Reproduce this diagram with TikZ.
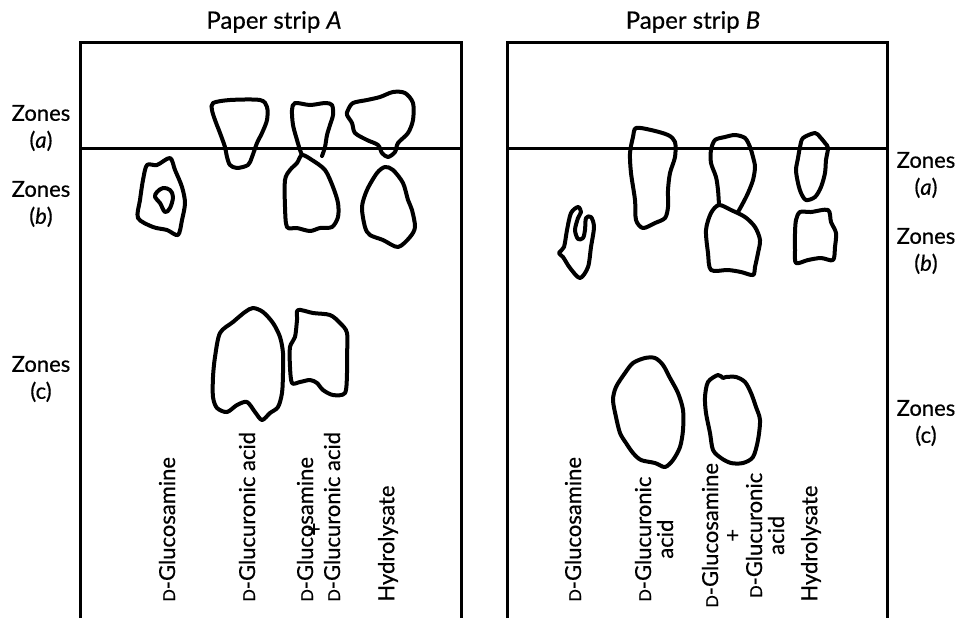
\documentclass[tikz,border=0pt]{standalone}
\usepackage{fontspec}
\setmainfont{Lato}[FakeBold=0.5]
\usetikzlibrary{positioning}
\newcommand{\dsc}{{\fontsize{8.2}{9}\selectfont D}}

\begin{document}
\begin{tikzpicture}[
  x=0.5pt,y=-0.5pt,
  font=\fontsize{11}{11}\selectfont,
  strip/.style={line width=1.5pt,line join=miter},
  spot/.style={line width=2pt,line join=round,line cap=round},
  zone/.style={align=center,inner sep=0pt,font=\fontsize{11}{13.5}\selectfont},
  lane/.style={rotate=90,anchor=west,inner sep=0pt,align=center},
]
\useasboundingbox (0,0) rectangle (958,618);

% strip A frame and start line
\draw[strip] (80,618) -- (80,42) -- (461,42) -- (461,618);
\draw[strip] (80,148) -- (461,148);
\node[inner sep=0pt,font=\fontsize{12}{12}\selectfont] (titleA) at (274,22) {Paper strip \textit{A}};

% strip B frame and start line
\draw[strip] (507,618) -- (507,42) -- (887,42) -- (887,618);
\draw[strip] (507,148) -- (887,148);
\node[inner sep=0pt,font=\fontsize{12}{12}\selectfont] (titleB) at (693,22) {Paper strip \textit{B}};

% zone labels
\node[zone] (zaL) at (41,128) {Zones\\(\textit{a})};
\node[zone] (zbL) at (41,204) {Zones\\(\textit{b})};
\node[zone] (zcL) at (41,379) {Zones\\(c)};
\node[zone] (zaR) at (926,175) {Zones\\(\textit{a})};
\node[zone] (zbR) at (926,251) {Zones\\(\textit{b})};
\node[zone] (zcR) at (926,423) {Zones\\(c)};

% spots, strip A
\draw[spot] plot[smooth cycle,tension=0.5] coordinates {(147,165) (157,165) (170,158) (175,170) (182,187) (185,203) (182,220) (178,235) (167,230) (153,227) (138,218) (140,200) (143,180)};
\draw[spot] plot[smooth cycle,tension=0.6] coordinates {(157,192) (163,188) (170,190) (173,197) (170,208) (165,212) (160,203) (155,197)};
\draw[spot] plot[smooth cycle,tension=0.5] coordinates {(213,103) (230,100) (260,100) (267,107) (267,120) (262,133) (257,143) (252,157) (248,165) (237,168) (230,165) (227,157) (225,147) (220,133) (215,120) (212,110)};
\draw[spot] plot[smooth,tension=0.5] coordinates {(322,156) (325,147) (327,135) (330,125) (333,115) (332,105) (325,103) (310,105) (295,103) (292,110) (293,125) (297,140) (300,150) (302,155)};
\draw[spot] plot[smooth cycle,tension=0.5] coordinates {(302,155) (312,160) (325,170) (333,187) (338,203) (338,217) (332,227) (320,228) (310,231) (297,228) (287,227) (285,207) (285,180) (290,170) (297,163)};
\draw[spot] plot[smooth cycle,tension=0.5] coordinates {(348,110) (353,103) (367,100) (380,97) (393,92) (405,93) (413,103) (413,120) (408,133) (398,143) (395,152) (388,157) (382,153) (378,145) (367,140) (355,133) (352,123) (347,115)};
\draw[spot] plot[smooth cycle,tension=0.5] coordinates {(385,167) (393,170) (403,183) (408,200) (412,210) (415,227) (410,237) (398,247) (383,240) (370,235) (365,227) (362,207) (367,190) (377,173)};
\draw[spot] plot[smooth cycle,tension=0.5] coordinates {(253,308) (263,312) (273,323) (280,337) (283,353) (283,373) (282,393) (278,407) (270,413) (262,420) (255,412) (247,402) (237,405) (227,412) (217,408) (213,397) (213,377) (215,357) (220,333) (233,322) (245,312)};
\draw[spot] plot[smooth cycle,tension=0.5] coordinates {(298,310) (313,313) (330,315) (340,323) (347,333) (347,357) (347,373) (345,393) (333,395) (323,390) (317,383) (310,380) (300,382) (292,383) (290,367) (290,347) (295,337) (297,320)};

% spots, strip B
\draw[spot] plot[smooth cycle,tension=0.5] coordinates {(578,207) (581,212) (578,218) (575,230) (578,239) (583,238) (585,230) (586,218) (591,217) (594,227) (591,247) (588,267) (580,278) (570,268) (563,257) (559,253) (564,247) (567,230) (571,213)};
\draw[spot] plot[smooth cycle,tension=0.5] coordinates {(636,128) (651,130) (668,135) (675,142) (675,157) (670,173) (668,190) (668,207) (665,218) (655,223) (643,228) (636,220) (635,200) (631,173) (630,153) (633,137)};
\draw[spot] plot[smooth,tension=0.5] coordinates {(738,212) (743,203) (748,193) (753,180) (755,167) (753,157) (750,147) (745,138) (735,135) (725,137) (715,140) (711,150) (711,163) (716,177) (718,190) (719,205)};
\draw[spot] plot[smooth cycle,tension=0.5] coordinates {(719,205) (731,210) (745,217) (755,227) (760,240) (758,253) (755,267) (753,275) (741,272) (728,270) (711,270) (708,253) (706,230) (711,213)};
\draw[spot] plot[smooth cycle,tension=0.5] coordinates {(803,138) (815,133) (820,137) (825,143) (828,148) (826,160) (825,173) (821,187) (815,197) (806,200) (801,193) (798,183) (796,170) (798,158) (800,147)};
\draw[spot] plot[smooth cycle,tension=0.5] coordinates {(800,212) (811,212) (828,210) (831,222) (836,233) (835,247) (833,260) (821,258) (808,260) (796,263) (795,250) (795,233) (796,220)};
\draw[spot] plot[smooth cycle,tension=0.5] coordinates {(633,363) (645,358) (655,358) (663,365) (670,378) (678,393) (683,410) (683,430) (680,447) (673,460) (665,467) (655,463) (641,460) (633,453) (626,443) (620,433) (616,417) (613,400) (616,387) (625,373)};
\draw[spot] plot[smooth cycle,tension=0.5] coordinates {(708,382) (718,375) (723,378) (726,377) (736,377) (745,382) (751,393) (756,407) (760,420) (758,440) (753,457) (743,463) (731,463) (721,458) (713,450) (710,433) (706,413) (705,397)};

% lane labels, strip A
\node[lane] (glnA) at (167,602) {\dsc-Glucosamine};
\node[lane] (gluA) at (247,602) {\dsc-Glucuronic acid};
\node[lane] (mixA1) at (305,602) {\dsc-Glucosamine};
\node[lane] (mixA2) at (332,602) {\dsc-Glucuronic acid};
\node[inner sep=0pt] (plusA) at (314,530) {+};
\node[lane] (hydA) at (388,602) {Hydrolysate};

% lane labels, strip B
\node[lane] (glnB) at (573,602) {\dsc-Glucosamine};
\node[lane] (gluB) at (654,602) {\dsc-Glucuronic\\acid};
\node[lane] (mixB) at (743,608) {\dsc-Glucosamine\\+\\\dsc-Glucuronic\\acid};
\node[lane] (hydB) at (811,602) {Hydrolysate};
\end{tikzpicture}
\end{document}
